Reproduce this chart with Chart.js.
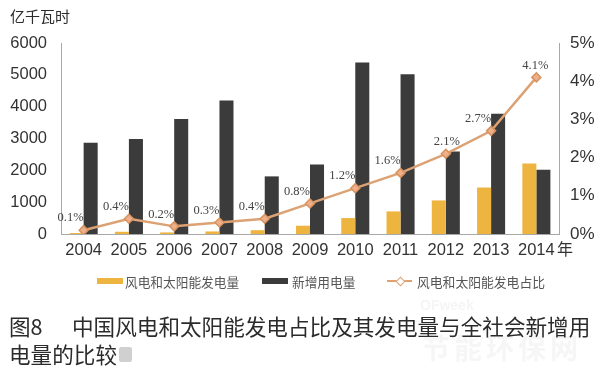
<!DOCTYPE html>
<html>
<head>
<meta charset="utf-8">
<script src="https://cdn.jsdelivr.net/npm/chart.js@4/dist/chart.umd.min.js"></script>
<style>
  html, body { margin: 0; padding: 0; background: #ffffff; }
  #wrap { position: relative; width: 606px; height: 369px; overflow: hidden; background: #ffffff; }
  #c { position: absolute; left: 0; top: 0; }
  .t { position: absolute; white-space: nowrap; font-family: "Noto Sans CJK SC", sans-serif; line-height: 1; }
  .sw { position: absolute; }
</style>
</head>
<body>
<div id="wrap">
  <canvas id="c" width="606" height="369"></canvas>
  <div class="t" style="left:10px;top:8px;font-size:15px;color:#2a2a2a;">亿千瓦时</div>
  <div class="t" style="left:557px;top:240px;font-size:16px;color:#333;">年</div>

  <div class="sw" style="left:97px;top:278px;width:26px;height:6px;background:#eeb440;"></div>
  <div class="t" style="left:125px;top:276px;font-size:12.7px;color:#555;">风电和太阳能发电量</div>
  <div class="sw" style="left:262px;top:278px;width:26px;height:6px;background:#3b3b3b;"></div>
  <div class="t" style="left:292px;top:276px;font-size:12.7px;color:#555;">新增用电量</div>
  <div class="sw" style="left:387px;top:280px;width:25px;height:2px;background:#e0a070;"></div>
  <div class="sw" style="left:396.5px;top:277.5px;width:5px;height:5px;background:#fff;border:1.5px solid #e0a070;transform:rotate(45deg);"></div>
  <div class="t" style="left:417px;top:276px;font-size:12.8px;color:#555;">风电和太阳能发电占比</div>

  <div class="t" style="left:420px;top:298px;font-size:14px;font-weight:bold;color:#f5f5f5;font-family:'Liberation Sans',sans-serif;">OFweek</div>
  <div class="t" style="left:422px;top:333px;font-size:28px;font-weight:bold;color:#f6f6f6;letter-spacing:4px;">节能环保网</div>

  <div class="t" style="left:9px;top:315px;font-size:21.6px;color:#2b2b2b;">图8</div>
  <div class="t" style="left:72px;top:315px;font-size:21.6px;color:#2b2b2b;">中国风电和太阳能发电占比及其发电量与全社会新增用</div>
  <div class="t" style="left:9px;top:343px;font-size:21.6px;color:#2b2b2b;">电量的比较</div>
  <div class="sw" style="left:119px;top:347px;width:13px;height:15px;background:#d0d0d0;border-radius:2px;"></div>
</div>
<script>
const years = ['2004','2005','2006','2007','2008','2009','2010','2011','2012','2013','2014'];
const windSolarGen = [30, 70, 50, 80, 120, 260, 500, 710, 1055, 1460, 2215];
const newConsumption = [2870, 2985, 3610, 4190, 1810, 2180, 5390, 5020, 2590, 3775, 2020];
const windSolarShare = [0.1, 0.4, 0.2, 0.3, 0.4, 0.8, 1.2, 1.6, 2.1, 2.7, 4.1];
const leftTicks = ['0', '1000', '2000', '3000', '4000', '5000', '6000'];
const rightTicks = ['0%', '1%', '2%', '3%', '4%', '5%'];

const labelPlugin = {
  id: 'shareLabels',
  afterDatasetsDraw(chart, args, opts) {
    const meta = chart.getDatasetMeta(0);
    const ctx = chart.ctx;
    ctx.save();
    ctx.font = '12.5px "Liberation Serif", serif';
    ctx.fillStyle = '#444';
    ctx.textAlign = 'center';
    ctx.textBaseline = 'middle';
    meta.data.forEach((pt, i) => {
      const off = (opts.offsets && opts.offsets[i]) || opts.defaultOffset;
      ctx.fillText(windSolarShare[i].toFixed(1) + '%', pt.x + off[0], pt.y + off[1]);
    });
    ctx.restore();
  }
};

new Chart(document.getElementById('c'), {
  data: {
    labels: years,
    datasets: [
      {
        type: 'line',
        label: '风电和太阳能发电占比',
        data: windSolarShare,
        yAxisID: 'y1',
        borderColor: '#dca274',
        borderWidth: 2.5,
        pointStyle: 'rectRot',
        pointRadius: 4.5,
        pointBackgroundColor: '#eeb08a',
        pointBorderColor: '#d8935f',
        pointBorderWidth: 1.5,
        tension: 0,
        order: 0
      },
      {
        type: 'bar',
        label: '风电和太阳能发电量',
        data: windSolarGen,
        yAxisID: 'y',
        backgroundColor: '#eeb440',
        categoryPercentage: 0.62,
        barPercentage: 1.0,
        order: 1
      },
      {
        type: 'bar',
        label: '新增用电量',
        data: newConsumption,
        yAxisID: 'y',
        backgroundColor: '#3b3b3b',
        categoryPercentage: 0.62,
        barPercentage: 1.0,
        order: 1
      }
    ]
  },
  options: {
    responsive: false,
    animation: false,
    layout: { padding: { top: 43, left: 0, right: 0, bottom: 105 } },
    plugins: {
      legend: { display: false },
      tooltip: { enabled: false },
      shareLabels: {
        defaultOffset: [-13, -12],
        offsets: { 8: [1, -12], 10: [-1, -12] }
      }
    },
    scales: {
      x: {
        grid: { display: false, drawTicks: false },
        border: { display: true, color: '#a8a8a8', width: 1 },
        ticks: { color: '#333', font: { family: '"Liberation Sans", Arial, sans-serif', size: 16.5 }, padding: 7, maxRotation: 0 },
        afterFit(s) { s.height = 30; }
      },
      y: {
        position: 'left',
        min: 0, max: 6000,
        afterBuildTicks(s) { s.ticks = leftTicks.map(v => ({ value: Number(v) })); },
        grid: { display: false, drawTicks: false },
        border: { display: true, color: '#a8a8a8', width: 1 },
        ticks: { color: '#333', font: { family: '"Liberation Sans", Arial, sans-serif', size: 16.5 }, padding: 14,
                 callback: (v, i) => leftTicks[i] },
        afterFit(s) { s.width = 61; }
      },
      y1: {
        position: 'right',
        min: 0, max: 5,
        afterBuildTicks(s) { s.ticks = rightTicks.map((t, i) => ({ value: i })); },
        grid: { display: false, drawTicks: false },
        border: { display: true, color: '#a8a8a8', width: 1 },
        ticks: { color: '#333', font: { family: '"Liberation Sans", Arial, sans-serif', size: 17 }, padding: 11,
                 callback: (v, i) => rightTicks[i] },
        afterFit(s) { s.width = 47; }
      }
    }
  },
  plugins: [labelPlugin]
});
</script>
</body>
</html>
